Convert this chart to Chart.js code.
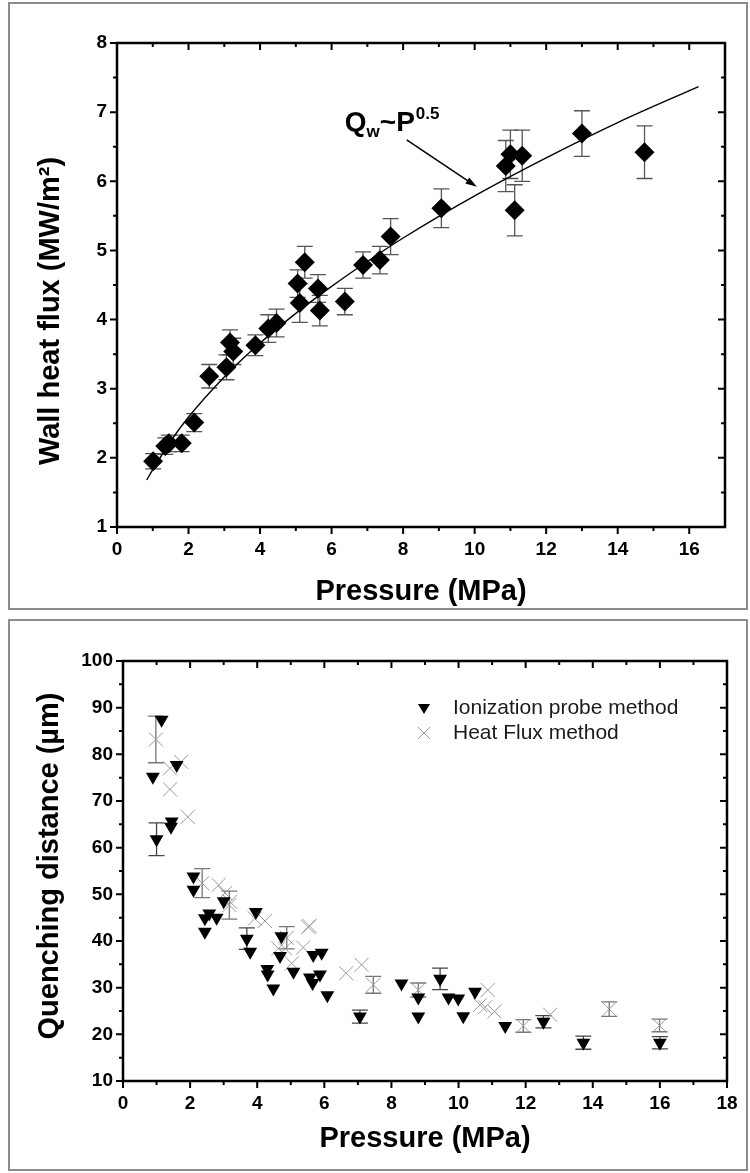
<!DOCTYPE html>
<html>
<head>
<meta charset="utf-8">
<script src="https://cdn.jsdelivr.net/npm/chart.js@4.4.0/dist/chart.umd.min.js"></script>
<style>
  body { margin: 0; background: #fff; width: 750px; height: 1173px; position: relative; overflow: hidden; }
  .frame { position: absolute; border: 2px solid #8c8c8c; box-sizing: border-box; }
  canvas { position: absolute; left: 0; }
</style>
</head>
<body>
<div class="frame" style="left:8px;top:2px;width:740px;height:608px"></div>
<div class="frame" style="left:8px;top:619px;width:740px;height:552px"></div>
<canvas id="fluxChart" width="750" height="612" style="top:0"></canvas>
<canvas id="quenchChart" width="750" height="555" style="top:618px"></canvas>
<script>
// Top panel: wall heat flux vs pressure
const fluxP   = [1.01, 1.35, 1.45, 1.81, 2.16, 2.58, 3.06, 3.16, 3.25, 3.87, 4.23, 4.46, 5.05, 5.11, 5.25, 5.62, 5.67, 6.37, 6.88, 7.35, 7.65, 9.07, 10.87, 11.0, 11.12, 11.33, 13.0, 14.75];
const fluxQ   = [1.95, 2.17, 2.21, 2.21, 2.51, 3.18, 3.31, 3.67, 3.54, 3.63, 3.87, 3.95, 4.52, 4.24, 4.83, 4.45, 4.13, 4.26, 4.79, 4.86, 5.20, 5.61, 6.22, 6.39, 5.58, 6.37, 6.69, 6.42];
const fluxErr = [0.11, 0.12, 0.12, 0.12, 0.13, 0.17, 0.18, 0.18, 0.19, 0.15, 0.20, 0.20, 0.20, 0.28, 0.23, 0.20, 0.22, 0.19, 0.19, 0.20, 0.26, 0.28, 0.37, 0.35, 0.37, 0.37, 0.33, 0.38];
// Q_w ~ P^0.5 fit curve
const fitP = [0.83, 1, 1.5, 2, 3, 4, 5, 6, 7, 8, 10, 12, 14, 16.26];
const fitQ = [1.68, 1.83, 2.24, 2.59, 3.17, 3.66, 4.09, 4.48, 4.84, 5.18, 5.79, 6.34, 6.85, 7.37];
const topXTicks = [0, 2, 4, 6, 8, 10, 12, 14, 16];
const topYTicks = [1, 2, 3, 4, 5, 6, 7, 8];

// Bottom panel: quenching distance vs pressure
const ionP   = [0.89, 1.15, 1.0, 1.43, 1.45, 1.6, 2.1, 2.1, 2.44, 2.44, 2.57, 2.79, 3.0, 3.69, 3.79, 3.96, 4.30, 4.31, 4.48, 4.68, 4.72, 5.08, 5.57, 5.65, 5.67, 5.87, 5.92, 6.09, 7.06, 8.30, 8.80, 8.80, 9.45, 9.70, 9.99, 10.14, 10.49, 11.39, 12.53, 13.72, 16.0];
const ionD   = [75.2, 87.4, 61.8, 64.5, 65.6, 77.7, 53.8, 51.0, 44.9, 42.0, 45.9, 45.0, 48.5, 40.5, 37.7, 46.2, 34.0, 32.8, 29.8, 36.8, 41.0, 33.4, 32.2, 31.0, 37.0, 32.8, 37.5, 28.4, 23.8, 30.9, 27.9, 23.8, 31.9, 27.9, 27.7, 23.9, 29.1, 21.8, 22.7, 18.2, 18.2];
const ionErr = [0, 0, 3.5, 0, 0, 0, 0, 0, 0, 0, 0, 0, 0, 2.3, 0, 0, 0, 0, 0, 0, 0, 0, 0, 0, 0, 0, 0, 0, 1.4, 0, 0, 0, 2.3, 0, 0, 0, 0, 0, 1.3, 1.4, 1.3];
const hfP    = [0.98, 1.40, 1.73, 1.40, 1.93, 2.36, 2.85, 3.04, 3.17, 3.19, 3.93, 4.23, 4.63, 4.83, 4.88, 5.03, 5.37, 5.52, 5.56, 6.65, 7.11, 7.46, 8.80, 10.64, 10.79, 10.87, 11.07, 11.93, 12.73, 14.49, 15.99];
const hfD    = [83.2, 77.0, 78.4, 72.5, 66.6, 52.4, 52.0, 50.3, 47.7, 48.4, 44.8, 44.3, 38.4, 38.4, 40.7, 35.2, 38.6, 43.0, 43.2, 33.1, 34.9, 30.6, 29.5, 26.3, 25.8, 29.5, 24.9, 21.8, 24.2, 25.4, 21.9];
const hfErr  = [5.0, 0, 0, 0, 0, 3.1, 0, 0, 3.0, 0, 0, 0, 0, 0, 2.4, 0, 0, 0, 0, 0, 0, 1.8, 1.5, 0, 0, 0, 0, 1.35, 0, 1.55, 1.35];
const bottomXTicks = [0, 2, 4, 6, 8, 10, 12, 14, 16, 18];
const bottomYTicks = [10, 20, 30, 40, 50, 60, 70, 80, 90, 100];

const FONT = "'Liberation Sans', Arial, sans-serif";
Chart.defaults.font.family = FONT;
Chart.defaults.color = '#000';

const toPoints = (xs, ys) => xs.map((x, i) => ({ x: x, y: ys[i] }));

// Plot frame plus major/minor ticks (left+bottom outward, top+right inward)
function frameTicks(xMajor, yMajor) {
  return {
    id: 'frameTicks',
    afterDraw(chart) {
      const { ctx, chartArea: a, scales: { x, y } } = chart;
      const withMinor = vals => {
        const out = [];
        vals.forEach((v, i) => {
          out.push([v, 7]);
          if (i < vals.length - 1) out.push([(v + vals[i + 1]) / 2, 4]);
        });
        return out;
      };
      ctx.save();
      ctx.strokeStyle = '#000';
      ctx.lineWidth = 2;
      ctx.beginPath();
      withMinor(xMajor).forEach(([v, len]) => {
        const px = x.getPixelForValue(v);
        ctx.moveTo(px, a.bottom); ctx.lineTo(px, a.bottom + len);
        ctx.moveTo(px, a.top); ctx.lineTo(px, a.top + len);
      });
      withMinor(yMajor).forEach(([v, len]) => {
        const py = y.getPixelForValue(v);
        ctx.moveTo(a.left, py); ctx.lineTo(a.left - len, py);
        ctx.moveTo(a.right, py); ctx.lineTo(a.right - len, py);
      });
      ctx.stroke();
      ctx.lineWidth = 2.5;
      ctx.strokeRect(a.left, a.top, a.right - a.left, a.bottom - a.top);
      ctx.restore();
    }
  };
}

// Rotated y-axis title, placed by hand so it can sit off-centre like the original
function yTitle(text, cx, shift) {
  return {
    id: 'yTitle',
    afterDraw(chart) {
      const { ctx, chartArea: a } = chart;
      ctx.save();
      ctx.translate(cx, (a.top + a.bottom) / 2 + shift);
      ctx.rotate(-Math.PI / 2);
      ctx.font = 'bold 29px ' + FONT;
      ctx.textAlign = 'center';
      ctx.textBaseline = 'middle';
      ctx.fillStyle = '#000';
      ctx.fillText(text, 0, 0);
      ctx.restore();
    }
  };
}

// Vertical error bars with caps, drawn under the markers
const errorBars = {
  id: 'errorBars',
  beforeDatasetsDraw(chart) {
    const { ctx, scales: { y } } = chart;
    chart.data.datasets.forEach((ds, di) => {
      if (!ds.errors) return;
      const meta = chart.getDatasetMeta(di);
      ctx.save();
      ctx.strokeStyle = ds.errorColor;
      ctx.lineWidth = 1.3;
      meta.data.forEach((pt, i) => {
        const e = ds.errors[i];
        if (!e) return;
        const v = ds.data[i].y;
        const top = y.getPixelForValue(v + e);
        const bot = y.getPixelForValue(v - e);
        const hw = ds.capHalf;
        ctx.beginPath();
        ctx.moveTo(pt.x, top); ctx.lineTo(pt.x, bot);
        ctx.moveTo(pt.x - hw, top); ctx.lineTo(pt.x + hw, top);
        ctx.moveTo(pt.x - hw, bot); ctx.lineTo(pt.x + hw, bot);
        ctx.stroke();
      });
      ctx.restore();
    });
  }
};

// "Qw~P0.5" label with arrow pointing at the fit curve
const fitLabel = {
  id: 'fitLabel',
  afterDatasetsDraw(chart) {
    const { ctx, scales: { x, y } } = chart;
    ctx.save();
    ctx.fillStyle = '#000';
    ctx.textBaseline = 'alphabetic';
    let tx = x.getPixelForValue(6.37);
    const ty = y.getPixelForValue(6.73);
    const put = (s, size, dy) => {
      ctx.font = 'bold ' + size + 'px ' + FONT;
      ctx.fillText(s, tx, ty + dy);
      tx += ctx.measureText(s).width;
    };
    put('Q', 28, 0);
    put('w', 17, 6);
    put('~P', 28, 0);
    tx += 1;
    put('0.5', 17, -12);

    const x0 = x.getPixelForValue(8.1), y0 = y.getPixelForValue(6.6);
    const x1 = x.getPixelForValue(10.06), y1 = y.getPixelForValue(5.92);
    const ang = Math.atan2(y1 - y0, x1 - x0);
    ctx.strokeStyle = '#000';
    ctx.lineWidth = 1.5;
    ctx.beginPath();
    ctx.moveTo(x0, y0);
    ctx.lineTo(x1 - 8 * Math.cos(ang), y1 - 8 * Math.sin(ang));
    ctx.stroke();
    ctx.beginPath();
    ctx.moveTo(x1, y1);
    ctx.lineTo(x1 - 12 * Math.cos(ang - 0.3), y1 - 12 * Math.sin(ang - 0.3));
    ctx.lineTo(x1 - 12 * Math.cos(ang + 0.3), y1 - 12 * Math.sin(ang + 0.3));
    ctx.closePath();
    ctx.fill();
    ctx.restore();
  }
};

// Legend inside the plot area of the bottom panel
const quenchLegend = {
  id: 'quenchLegend',
  afterDraw(chart) {
    const { ctx, chartArea: a } = chart;
    const mx = a.left + 301, y1 = a.top + 47, y2 = a.top + 72;
    ctx.save();
    ctx.fillStyle = '#000';
    ctx.beginPath();
    ctx.moveTo(mx - 6, y1 - 4); ctx.lineTo(mx + 6, y1 - 4); ctx.lineTo(mx, y1 + 6);
    ctx.closePath();
    ctx.fill();
    ctx.strokeStyle = '#999';
    ctx.lineWidth = 1;
    ctx.beginPath();
    ctx.moveTo(mx - 6, y2 - 6); ctx.lineTo(mx + 6, y2 + 6);
    ctx.moveTo(mx + 6, y2 - 6); ctx.lineTo(mx - 6, y2 + 6);
    ctx.stroke();
    ctx.fillStyle = '#1a1a1a';
    ctx.font = '21px ' + FONT;
    ctx.textBaseline = 'middle';
    ctx.fillText('Ionization probe method', mx + 29, y1);
    ctx.fillText('Heat Flux method', mx + 29, y2);
    ctx.restore();
  }
};

function axis(min, max, ticks, title, width, height, titlePad, tickPad) {
  return {
    type: 'linear',
    min: min,
    max: max,
    grid: { display: false, drawTicks: false },
    border: { display: false },
    afterBuildTicks: s => { s.ticks = ticks.map(v => ({ value: v })); },
    afterFit: s => {
      if (width !== null) s.width = width;
      if (height !== null) s.height = height;
    },
    ticks: { padding: tickPad, font: { size: 19, weight: 'bold' }, color: '#000' },
    title: { display: !!title, text: title, font: { size: 29, weight: 'bold' }, color: '#000', padding: titlePad }
  };
}

new Chart(document.getElementById('fluxChart'), {
  type: 'scatter',
  data: {
    datasets: [
      {
        type: 'line',
        data: toPoints(fitP, fitQ),
        borderColor: '#000',
        borderWidth: 1.4,
        pointRadius: 0,
        cubicInterpolationMode: 'monotone',
        order: 2
      },
      {
        data: toPoints(fluxP, fluxQ),
        errors: fluxErr,
        errorColor: '#555',
        capHalf: 8,
        pointStyle: 'rectRot',
        pointRadius: 10,
        backgroundColor: '#000',
        borderColor: '#000',
        borderWidth: 0,
        order: 1
      }
    ]
  },
  options: {
    responsive: false,
    animation: false,
    devicePixelRatio: 1,
    layout: { padding: { left: 0, top: 43, right: 25, bottom: 0 } },
    plugins: { legend: { display: false }, tooltip: { enabled: false } },
    scales: {
      x: axis(0, 17, topXTicks, 'Pressure (MPa)', null, 85, { bottom: 3 }, 11),
      y: axis(1, 8, topYTicks, '', 117, null, 0, 10)
    }
  },
  plugins: [errorBars, frameTicks(topXTicks, topYTicks), fitLabel, yTitle('Wall heat flux (MW/m²)', 51, 26)]
});

new Chart(document.getElementById('quenchChart'), {
  type: 'scatter',
  data: {
    datasets: [
      {
        data: toPoints(hfP, hfD),
        errors: hfErr,
        errorColor: '#777',
        capHalf: 8,
        pointStyle: 'crossRot',
        pointRadius: 10,
        borderColor: '#999',
        borderWidth: 1,
        order: 2
      },
      {
        data: toPoints(ionP, ionD),
        errors: ionErr,
        errorColor: '#444',
        capHalf: 8,
        pointStyle: 'triangle',
        rotation: 180,
        pointRadius: 8,
        backgroundColor: '#000',
        borderColor: '#000',
        borderWidth: 0,
        order: 1
      }
    ]
  },
  options: {
    responsive: false,
    animation: false,
    devicePixelRatio: 1,
    layout: { padding: { left: 0, top: 43, right: 23, bottom: 0 } },
    plugins: { legend: { display: false }, tooltip: { enabled: false } },
    scales: {
      x: axis(0, 18, bottomXTicks, 'Pressure (MPa)', null, 92, { bottom: 17 }, 11),
      y: axis(10, 100, bottomYTicks, '', 123, null, 0, 10)
    }
  },
  plugins: [errorBars, frameTicks(bottomXTicks, bottomYTicks), quenchLegend, yTitle('Quenching distance (µm)', 50, -5)]
});
</script>
</body>
</html>
